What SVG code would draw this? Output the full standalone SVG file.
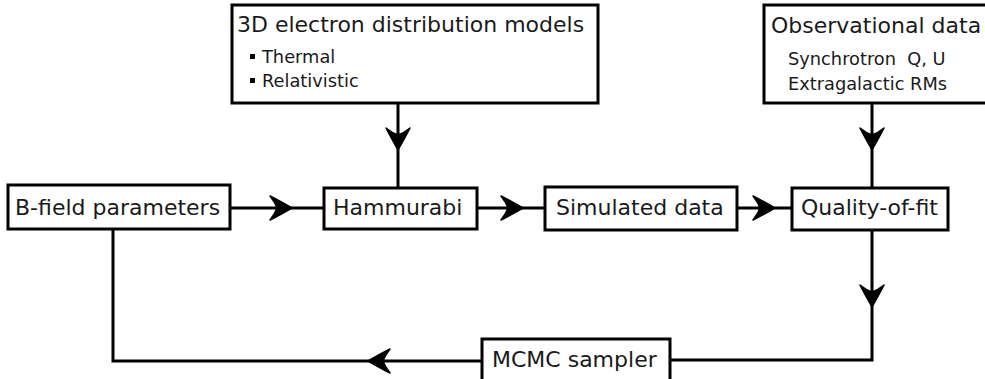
<svg xmlns="http://www.w3.org/2000/svg" xmlns:xlink="http://www.w3.org/1999/xlink" width="985" height="379" viewBox="0 0 985 379">
<style>
.box{fill:#fff;stroke:#000;stroke-width:3}
.t{font-family:"DejaVu Sans",sans-serif;font-size:22px;fill:#1a1a1a}
.s{font-family:"DejaVu Sans",sans-serif;font-size:17.8px;fill:#1a1a1a}
.ln{fill:none;stroke:#000;stroke-width:3}
.ah{fill:#000;stroke:#000;stroke-width:1.5;stroke-linejoin:round}
</style>
<defs>
<path id="arr" class="ah" d="M0,0 C-7,-4 -14,-8 -22,-12 C-18,-7 -16,-3 -15,0 C-16,3 -18,7 -22,12 C-14,8 -7,4 0,0 Z"/>
</defs>
<rect width="985" height="379" fill="#fff"/>
<g id="connectors">
<path class="ln" d="M230,208 H324"/>
<path class="ln" d="M477,208 H545"/>
<path class="ln" d="M737,208 H792"/>
<path class="ln" d="M398,103 V188"/>
<path class="ln" d="M872,103 V188"/>
<path class="ln" d="M872,230 V360 H670"/>
<path class="ln" d="M482,361 H113 V229"/>
<use xlink:href="#arr" transform="translate(292,208)"/>
<use xlink:href="#arr" transform="translate(523,208)"/>
<use xlink:href="#arr" transform="translate(775,208)"/>
<use xlink:href="#arr" transform="translate(398,150) rotate(90)"/>
<use xlink:href="#arr" transform="translate(872,150) rotate(90)"/>
<use xlink:href="#arr" transform="translate(872,307) rotate(90)"/>
<use xlink:href="#arr" transform="translate(368,361) rotate(180)"/>
</g>
<g id="models">
<rect class="box" x="232" y="5" width="366" height="98"/>
<text class="t" x="237" y="32">3D electron distribution models</text>
<rect x="250" y="54" width="5" height="5" fill="#000"/>
<text class="s" x="262" y="62.5">Thermal</text>
<rect x="250" y="78" width="5" height="5" fill="#000"/>
<text class="s" x="262" y="86.5">Relativistic</text>
</g>
<g id="observational">
<rect class="box" x="764" y="5" width="235" height="98"/>
<text class="t" x="771" y="33">Observational data</text>
<text class="s" x="788" y="65" xml:space="preserve">Synchrotron  Q, U</text>
<text class="s" x="788" y="90">Extragalactic RMs</text>
</g>
<g id="bfield">
<rect class="box" x="8" y="185" width="222" height="44"/>
<text class="t" x="15" y="215">B-field parameters</text>
</g>
<g id="hammurabi">
<rect class="box" x="324" y="188" width="153" height="41"/>
<text class="t" x="333" y="215">Hammurabi</text>
</g>
<g id="simulated">
<rect class="box" x="545" y="187" width="192" height="43"/>
<text class="t" x="556" y="215">Simulated data</text>
</g>
<g id="quality">
<rect class="box" x="792" y="188" width="156" height="42"/>
<text class="t" x="801" y="215">Quality-of-fit</text>
</g>
<g id="mcmc">
<rect class="box" x="482" y="339" width="188" height="48"/>
<text class="t" x="492" y="367">MCMC sampler</text>
</g>
</svg>
